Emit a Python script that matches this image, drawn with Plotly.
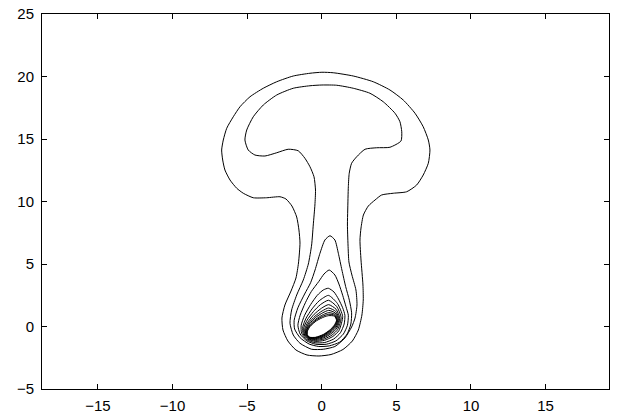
import plotly.graph_objects as go

# Contour lines of the field, traced level by level (x, y in axis units).
# Level 1: outermost mushroom-shaped contour
level1_x = [0.01, 0.77, 2.11, 3.45, 4.57, 5.46, 6.25, 6.80, 7.14, 7.25, 7.14, 6.80, 6.36, 5.69, 4.79,
            4.01, 3.57, 3.12, 2.79, 2.63, 2.56, 2.63, 2.76, 2.78, 2.69, 2.45, 2.05, 1.42, 0.62, -0.19,
            -0.99, -1.73, -2.27, -2.60, -2.67, -2.47, -2.06, -1.73, -1.56, -1.46, -1.53, -1.68, -2.00,
            -2.40, -2.80, -3.69, -4.59, -5.26, -5.70, -6.15, -6.49, -6.64, -6.71, -6.60, -6.37, -5.93,
            -5.48, -4.81, -3.92, -3.02, -1.91, -0.79]
level1_y = [20.34, 20.30, 20.04, 19.58, 18.92, 18.12, 17.06, 15.98, 14.92, 14.12, 13.06, 12.12, 11.32,
            10.78, 10.66, 10.52, 10.12, 9.64, 8.92, 7.88, 6.92, 5.32, 3.32, 2.12, 0.92, -0.28, -1.16,
            -1.84, -2.24, -2.36, -2.28, -1.88, -1.16, -0.28, 0.68, 1.72, 2.84, 3.88, 5.08, 6.68, 7.72,
            8.76, 9.64, 10.2, 10.38, 10.30, 10.30, 10.66, 11.06, 11.72, 12.52, 13.32, 14.12, 14.92,
            15.86, 16.78, 17.58, 18.38, 19.06, 19.58, 20.04, 20.26]

# Level 2: inner mushroom contour
level2_x = [0.01, 1.00, 2.11, 3.23, 4.12, 4.91, 5.24, 5.36, 5.31, 4.57, 3.68, 2.90, 2.34, 2.00, 1.84,
            1.78, 1.74, 1.72, 1.76, 1.82, 2.02, 2.29, 2.36, 2.23, 2.00, 1.55, 0.88, 0.10, -0.68, -1.46,
            -1.91, -2.13, -2.02, -1.68, -1.24, -0.90, -0.68, -0.57, -0.46, -0.42, -0.52, -0.79, -1.13,
            -1.58, -2.25, -3.02, -3.81, -4.48, -4.93, -5.15, -5.03, -4.59, -3.92, -3.02, -1.91, -0.79]
level2_y = [19.32, 19.30, 19.06, 18.66, 17.98, 17.06, 16.38, 15.58, 14.84, 14.34, 14.30, 14.18, 13.58,
            13.06, 12.26, 11.18, 9.32, 8.12, 6.52, 5.16, 4.12, 2.92, 1.72, 0.68, -0.04, -0.92, -1.6,
            -1.82, -1.82, -1.34, -0.68, 0.26, 1.32, 2.52, 3.72, 5.0, 6.52, 8.12, 9.72, 10.92, 11.98,
            12.78, 13.46, 14.06, 14.18, 13.90, 13.64, 13.72, 14.12, 14.92, 15.72, 16.78, 17.72, 18.52,
            19.06, 19.26]

# Levels 3-5: tear-drop contours rising up the stem
level3_x = [0.55, 0.88, 1.11, 1.35, 1.60, 1.85, 2.00, 1.95, 1.70, 1.20, 0.50, -0.20, -0.85, -1.45,
            -1.82, -1.85, -1.60, -1.15, -0.75, -0.45, -0.12, 0.21]
level3_y = [7.26, 6.92, 5.86, 4.52, 3.20, 2.10, 1.10, 0.20, -0.60, -1.25, -1.55, -1.60, -1.40, -0.90,
            -0.20, 0.50, 1.50, 2.60, 3.50, 4.52, 5.86, 6.92]

level4_x = [0.50, 0.88, 1.15, 1.40, 1.62, 1.78, 1.72, 1.45, 0.95, 0.30, -0.40, -1.00, -1.45, -1.60,
            -1.45, -1.10, -0.70, -0.20, 0.15]
level4_y = [4.52, 4.12, 3.40, 2.50, 1.60, 0.90, 0.10, -0.60, -1.15, -1.42, -1.42, -1.15, -0.60, 0.10,
            0.90, 1.90, 2.80, 3.60, 4.20]

level5_x = [0.44, 0.82, 1.12, 1.40, 1.55, 1.50, 1.25, 0.80, 0.20, -0.45, -1.00, -1.35, -1.38, -1.15,
            -0.75, -0.30, 0.10]
level5_y = [3.06, 2.76, 2.20, 1.50, 0.90, 0.20, -0.50, -1.00, -1.28, -1.30, -1.05, -0.55, 0.10, 0.90,
            1.75, 2.50, 2.92]

# Levels 6-13: tightly packed loops around the peak near the origin
level6_x = [0.45, 1.05, 1.40, 1.15, 0.74, 0.17, -0.44, -0.95, -1.25, -1.27, -1.05, -0.65, -0.18]
level6_y = [2.49, 1.84, 0.80, -0.33, -0.80, -1.11, -1.19, -1.00, -0.58, -0.02, 0.67, 1.41, 2.05]

level7_x = [0.45, 1.00, 1.30, 1.08, 0.70, 0.16, -0.43, -0.91, -1.18, -1.20, -0.98, -0.57, -0.10]
level7_y = [2.10, 1.60, 0.72, -0.22, -0.67, -1.00, -1.11, -0.97, -0.60, -0.10, 0.51, 1.18, 1.74]

level8_x = [0.46, 0.96, 1.21, 1.02, 0.67, 0.14, -0.42, -0.88, -1.12, -1.13, -0.92, -0.51, -0.02]
level8_y = [1.75, 1.38, 0.66, -0.12, -0.54, -0.90, -1.04, -0.94, -0.62, -0.18, 0.37, 0.98, 1.46]

level9_x = [0.46, 0.93, 1.15, 0.97, 0.64, 0.13, -0.41, -0.86, -1.08, -1.08, -0.88, -0.46, 0.03]
level9_y = [1.48, 1.21, 0.61, -0.04, -0.45, -0.82, -0.98, -0.91, -0.64, -0.23, 0.27, 0.82, 1.25]

level10_x = [0.46, 0.90, 1.10, 0.93, 0.62, 0.12, -0.41, -0.84, -1.04, -1.04, -0.84, -0.43, 0.07]
level10_y = [1.29, 1.09, 0.58, 0.02, -0.38, -0.76, -0.94, -0.90, -0.65, -0.27, 0.19, 0.71, 1.10]

level11_x = [0.47, 0.88, 1.05, 0.90, 0.60, 0.11, -0.40, -0.82, -1.01, -1.01, -0.81, -0.39, 0.11]
level11_y = [1.11, 0.98, 0.54, 0.07, -0.32, -0.71, -0.91, -0.88, -0.66, -0.31, 0.12, 0.60, 0.96]

level12_x = [0.47, 0.86, 1.02, 0.88, 0.59, 0.11, -0.40, -0.81, -0.99, -0.98, -0.79, -0.37, 0.14]
level12_y = [0.98, 0.90, 0.52, 0.11, -0.28, -0.67, -0.88, -0.87, -0.66, -0.34, 0.06, 0.53, 0.86]

level13_x = [0.47, 0.85, 0.99, 0.86, 0.58, 0.10, -0.40, -0.80, -0.97, -0.96, -0.77, -0.35, 0.16]
level13_y = [0.87, 0.83, 0.50, 0.14, -0.24, -0.64, -0.86, -0.86, -0.67, -0.36, 0.02, 0.46, 0.77]

levels = [
    (level1_x, level1_y), (level2_x, level2_y), (level3_x, level3_y), (level4_x, level4_y),
    (level5_x, level5_y), (level6_x, level6_y), (level7_x, level7_y), (level8_x, level8_y),
    (level9_x, level9_y), (level10_x, level10_y), (level11_x, level11_y), (level12_x, level12_y),
    (level13_x, level13_y),
]

x_ticks = [-15, -10, -5, 0, 5, 10, 15]
y_ticks = [-5, 0, 5, 10, 15, 20, 25]

fig = go.Figure()
for xs, ys in levels:
    # close each loop back on its first point
    fig.add_trace(go.Scatter(
        x=list(xs) + [xs[0]], y=list(ys) + [ys[0]],
        mode="lines",
        line=dict(color="black", width=1, shape="spline", smoothing=0.6),
        hoverinfo="skip", showlegend=False,
    ))

axis_common = dict(
    showgrid=False, zeroline=False, automargin=False,
    showline=True, linecolor="black", linewidth=1, mirror="ticks",
    ticks="inside", ticklen=5, tickcolor="black", tickwidth=1,
    tickfont=dict(family="Liberation Sans, Arial, sans-serif", size=15, color="black"),
)

fig.update_xaxes(range=[-18.75, 19.25], tickvals=x_ticks, ticklabelstandoff=3, **axis_common)
fig.update_yaxes(range=[-5, 25], tickvals=y_ticks, ticklabelstandoff=4, **axis_common)

fig.update_layout(
    width=617, height=419, autosize=False,
    margin=dict(l=42, r=8, t=14, b=30),
    paper_bgcolor="white", plot_bgcolor="white",
    showlegend=False, hovermode=False,
)

fig.write_html("out.html")
